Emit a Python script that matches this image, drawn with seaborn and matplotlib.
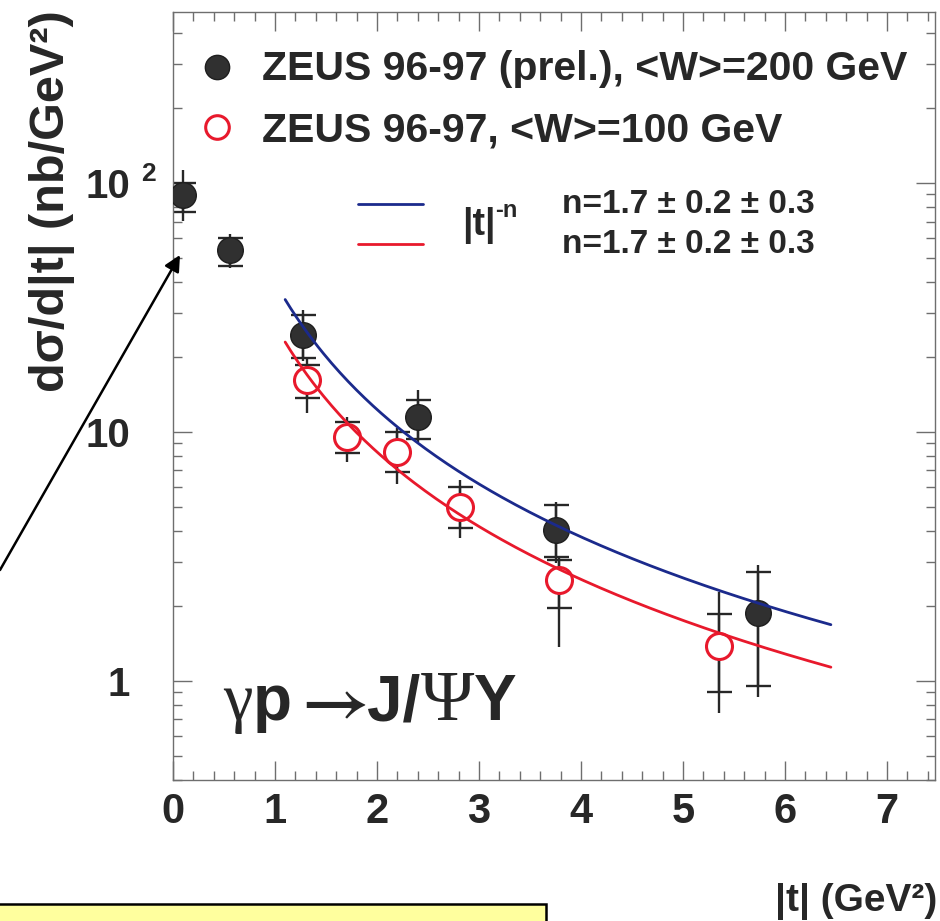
import numpy as np
import pandas as pd
import matplotlib
matplotlib.use("Agg")
import matplotlib.pyplot as plt
import seaborn as sns
from matplotlib.ticker import FixedLocator, FixedFormatter, MultipleLocator, LogLocator, NullFormatter
from matplotlib.patches import Rectangle, FancyArrowPatch

# ---- data: J/psi photoproduction with proton dissociation, dsigma/d|t| (nb/GeV^2)
# <W> = 200 GeV (preliminary)
t_w200 = [0.10, 0.56, 1.27, 2.40, 3.76, 5.74]
dsig_w200 = [89.5, 53.8, 24.5, 11.5, 4.04, 1.88]
stat_up_w200 = [100.0, 60.1, 29.5, 13.4, 5.10, 2.74]
stat_dn_w200 = [76.5, 46.4, 19.8, 9.4, 3.15, 0.95]
tot_up_w200 = [112.8, 62.4, 30.9, 14.7, 5.24, 2.92]
tot_dn_w200 = [70.4, 45.6, 19.2, 9.1, 2.98, 0.86]

# <W> = 100 GeV
t_w100 = [1.31, 1.71, 2.20, 2.81, 3.78, 5.35]
dsig_w100 = [16.2, 9.54, 8.3, 5.0, 2.55, 1.38]
stat_up_w100 = [18.6, 10.97, 10.0, 6.0, 3.06, 1.86]
stat_dn_w100 = [13.7, 8.2, 6.9, 4.1, 1.96, 0.90]
tot_up_w100 = [20.0, 11.5, 10.4, 6.4, 3.12, 2.28]
tot_dn_w100 = [11.9, 7.6, 6.2, 3.76, 1.37, 0.74]

# power-law fits  A * |t|^-n
fit_n = 1.7
fit_norm_w200 = 40.0
fit_norm_w100 = 27.0
fit_t_min, fit_t_max = 1.1, 6.45

x_ticks = [0, 1, 2, 3, 4, 5, 6, 7]
y_ticks = [1, 10, 100]
y_tick_labels = ["1", "10", "10"]

legend_w200 = "ZEUS 96-97 (prel.), <W>=200 GeV"
legend_w100 = "ZEUS 96-97, <W>=100 GeV"
fit_text = "n=1.7 \u00b1 0.2 \u00b1 0.3"

INK = "#272727"
BLUE = "#1b2a8c"
RED = "#e8192c"
AXIS_GREY = "#6e6e6e"

sns.set_theme(style="ticks")
plt.rcParams["font.family"] = ["Liberation Sans", "DejaVu Sans"]
plt.rcParams["font.weight"] = "bold"
plt.rcParams["text.color"] = INK

fig = plt.figure(figsize=(9.40, 9.21), dpi=100)
fig.patch.set_facecolor("white")
ax = fig.add_axes([0.184, 0.1531, 0.8106, 0.8339])
ax.set_facecolor("white")
ax.set_yscale("log")
ax.set_xlim(0, 7.47)
ax.set_ylim(0.40, 486)

# error bars: full line = total, caps = statistical
def draw_errors(t, y, s_up, s_dn, t_up, t_dn):
    y = np.asarray(y)
    ax.errorbar(t, y, yerr=[y - np.asarray(t_dn), np.asarray(t_up) - y], fmt="none",
                ecolor=INK, elinewidth=1.7, capsize=0, zorder=2)
    ax.errorbar(t, y, yerr=[y - np.asarray(s_dn), np.asarray(s_up) - y], fmt="none",
                ecolor=INK, elinewidth=1.7, capsize=9, capthick=1.7, zorder=2)

draw_errors(t_w200, dsig_w200, stat_up_w200, stat_dn_w200, tot_up_w200, tot_dn_w200)
draw_errors(t_w100, dsig_w100, stat_up_w100, stat_dn_w100, tot_up_w100, tot_dn_w100)

df200 = pd.DataFrame({"t": t_w200, "dsig": dsig_w200})
df100 = pd.DataFrame({"t": t_w100, "dsig": dsig_w100})
sns.scatterplot(data=df200, x="t", y="dsig", ax=ax, s=340, color="#303030",
                edgecolor="#1e1e1e", linewidth=1.0, zorder=4, legend=False)
sns.scatterplot(data=df100, x="t", y="dsig", ax=ax, s=350, facecolor="white",
                edgecolor=RED, linewidth=2.2, zorder=4, legend=False)

t_grid = np.linspace(fit_t_min, fit_t_max, 200)
fits = pd.DataFrame({"t": t_grid,
                     "w200": fit_norm_w200 * t_grid ** (-fit_n),
                     "w100": fit_norm_w100 * t_grid ** (-fit_n)})
sns.lineplot(data=fits, x="t", y="w200", ax=ax, color=BLUE, lw=2.0, zorder=5)
sns.lineplot(data=fits, x="t", y="w100", ax=ax, color=RED, lw=2.0, zorder=5)

ax.set_xlabel("")
ax.set_ylabel("")

# axes frame and ticks
for sp in ax.spines.values():
    sp.set_visible(True)
    sp.set_color(AXIS_GREY)
    sp.set_linewidth(1.0)
ax.xaxis.set_major_locator(FixedLocator(x_ticks))
ax.xaxis.set_minor_locator(MultipleLocator(0.2))
ax.yaxis.set_major_locator(FixedLocator(y_ticks))
ax.yaxis.set_major_formatter(FixedFormatter(y_tick_labels))
ax.yaxis.set_minor_locator(LogLocator(base=10, subs=np.arange(2, 10)))
ax.yaxis.set_minor_formatter(NullFormatter())
ax.tick_params(which="both", direction="in", top=True, right=True,
               color=AXIS_GREY, width=1.0, labelcolor=INK)
ax.tick_params(which="major", length=14)
ax.tick_params(which="minor", length=6.5)
ax.tick_params(axis="x", which="major", labelsize=30, pad=9)
ax.tick_params(axis="y", which="major", labelsize=29, pad=31)
for lab in ax.get_xticklabels() + ax.get_yticklabels():
    lab.set_fontweight("bold")

# superscript of the 10^2 label
fig.text(141 / 940, 1 - 162 / 921, "2", fontsize=19, fontweight="bold",
         ha="left", va="top", color=INK)

# axis titles
fig.text(52 / 940, 1 - 201 / 921, "d\u03c3/d|t| (nb/GeV\u00b2)", rotation=90,
         fontsize=35, fontweight="bold", ha="center", va="center", color=INK)
fig.text(0.997, 1 - 911 / 921, "|t| (GeV\u00b2)", fontsize=28, fontweight="bold",
         ha="right", va="baseline", color=INK)

# legend for the data sets
ax.plot([0.0577], [0.928], transform=ax.transAxes, marker="o", ms=17.5,
        color="#303030", mec="#1e1e1e", ls="none", clip_on=False)
ax.plot([0.0577], [0.850], transform=ax.transAxes, marker="o", ms=17,
        mfc="white", mec=RED, mew=2.2, ls="none", clip_on=False)
ax.text(0.1168, 0.9115, legend_w200, transform=ax.transAxes, fontsize=29.5,
        fontweight="bold", ha="left", va="baseline")
ax.text(0.1168, 0.8307, legend_w100, transform=ax.transAxes, fontsize=29.5,
        fontweight="bold", ha="left", va="baseline")

# legend for the fits
ax.plot([0.2428, 0.3281], [0.750, 0.750], transform=ax.transAxes, color=BLUE, lw=2.0)
ax.plot([0.2428, 0.3281], [0.698, 0.698], transform=ax.transAxes, color=RED, lw=2.0)


def text_run(x, y, pieces):
    """Lay out differently styled strings one after another on a baseline."""
    prev = None
    for s, kw in pieces:
        yy = y + kw.pop("dy", 0.0)
        if prev is None:
            prev = ax.text(x, yy, s, transform=ax.transAxes, ha="left", va="baseline", **kw)
        else:
            prev = ax.annotate(s, xy=(1, yy), xycoords=(prev, "axes fraction"),
                               ha="left", va="baseline", **kw)
    return prev


text_run(0.3793, 0.7096, [("|t|", dict(fontsize=27, fontweight="bold")),
                          ("-n", dict(fontsize=17, fontweight="bold", dy=0.023))])
ax.text(0.5105, 0.738, fit_text, transform=ax.transAxes, fontsize=24,
        fontweight="bold", ha="left", va="baseline")
ax.text(0.5105, 0.686, fit_text, transform=ax.transAxes, fontsize=24,
        fontweight="bold", ha="left", va="baseline")

serif = dict(fontfamily=["Liberation Serif", "DejaVu Serif"], fontweight="normal", fontsize=48)
sans = dict(fontfamily=["Liberation Sans", "DejaVu Sans"], fontweight="bold", fontsize=46)
arrow = dict(fontsize=50, fontweight="normal", math_fontfamily="stix")
text_run(0.0656, 0.0781, [("\u03b3", dict(serif)), ("p", dict(sans)),
                          (r"$\rightarrow$", dict(arrow)), ("J/", dict(sans)),
                          ("\u03a8", dict(serif, fontsize=52)), ("Y", dict(sans))])

# pointer arrow and note box at the lower left
fig.add_artist(FancyArrowPatch((0.0, 1 - 570 / 921), (180 / 940, 1 - 255 / 921),
                               transform=fig.transFigure, arrowstyle="-|>",
                               mutation_scale=24, lw=1.8, color="black",
                               shrinkA=0, shrinkB=0))
fig.add_artist(Rectangle((-0.01, -0.05), 546 / 940 + 0.01, 0.05 + 1 - 904 / 921,
                         transform=fig.transFigure, facecolor="#ffff9e",
                         edgecolor="black", lw=1.8))

fig.savefig("out.png", dpi=100, facecolor="white")
